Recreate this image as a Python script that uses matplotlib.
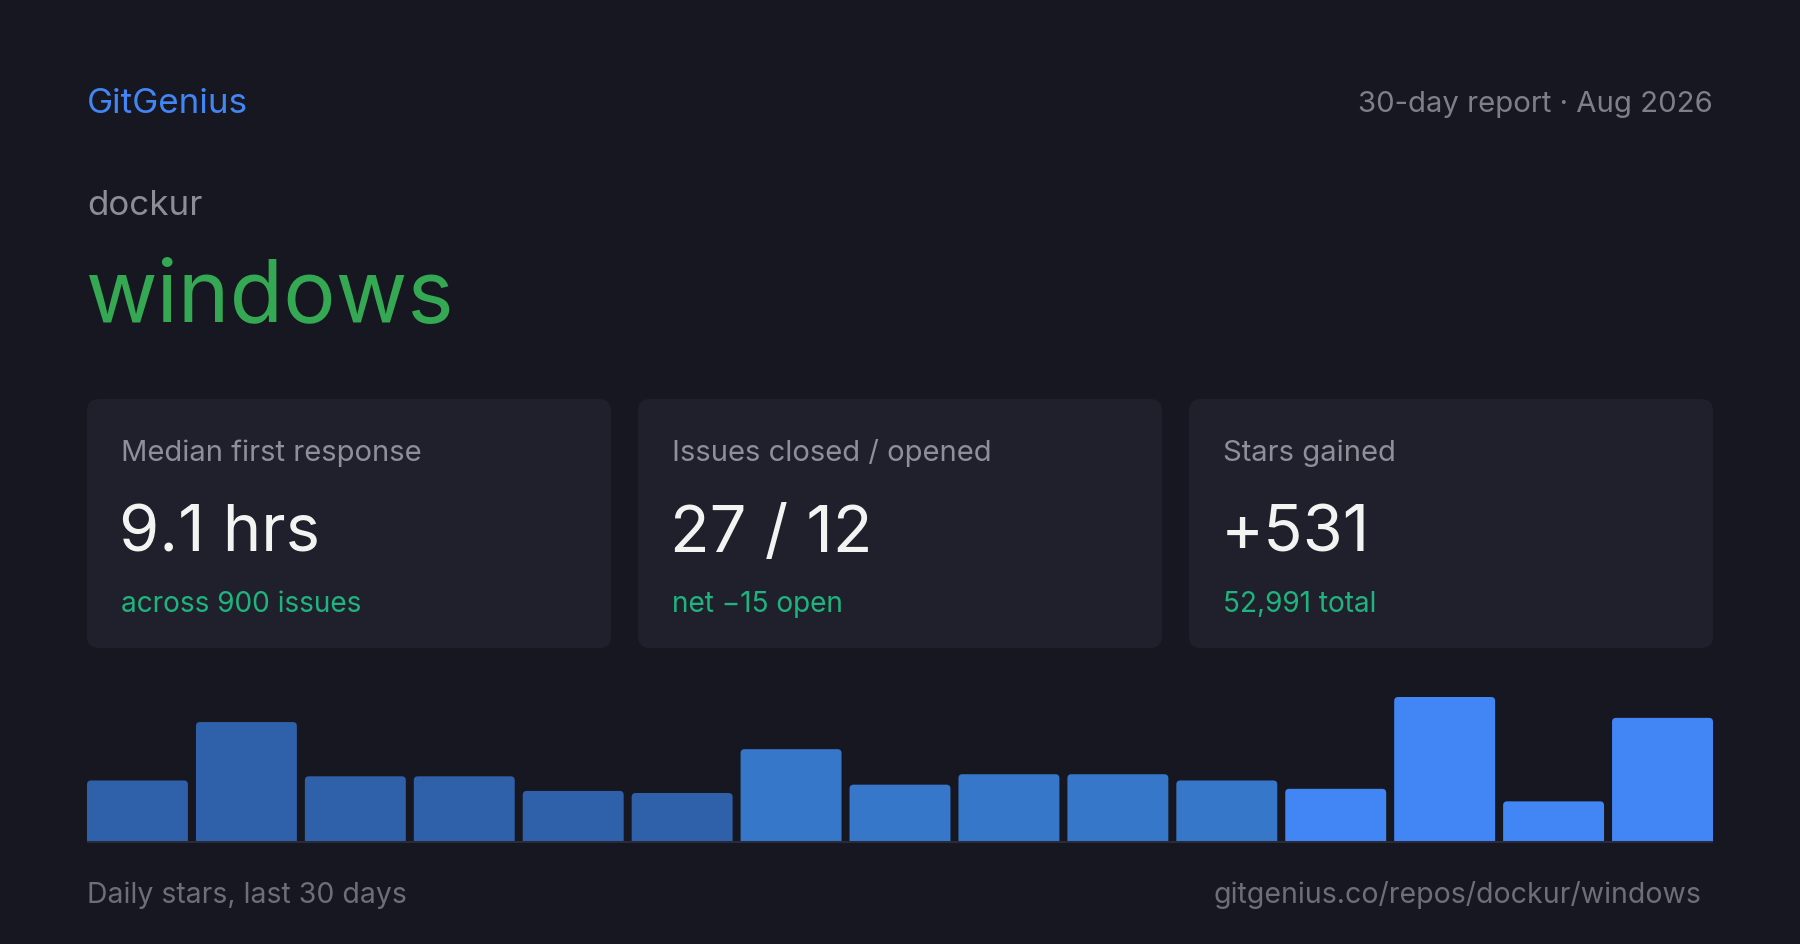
import matplotlib
matplotlib.use("Agg")
import matplotlib.pyplot as plt
from matplotlib.patches import FancyBboxPatch

# data
brand = "GitGenius"
report = "30-day report \u00b7 Aug 2026"
owner = "dockur"
repo = "windows"
card_labels = ["Median first response", "Issues closed / opened", "Stars gained"]
card_values = ["9.1 hrs", "27 / 12", "+531"]
card_subs = ["across 900 issues", "net \u221215 open", "52,991 total"]
daily_stars = [29, 57, 31, 31, 24, 23, 44, 27, 32, 32, 29, 25, 69, 19, 59]
footer_left = "Daily stars, last 30 days"
footer_right = "gitgenius.co/repos/dockur/windows"

# colours
BG = "#161720"
CARD = "#1f202b"
BLUE = "#4285f4"
GREEN = "#34a853"
TEAL = "#1fb47e"
bar_colors = ["#2f60aa"] * 6 + ["#3777c9"] * 5 + ["#4286f5"] * 4

plt.rcParams["font.family"] = ["Inter", "DejaVu Sans"]

W, H = 1800, 945
fig = plt.figure(figsize=(W / 100, H / 100), dpi=100, facecolor=BG)

# layout axes in pixel units, y going down
lay = fig.add_axes([0, 0, 1, 1])
lay.set_xlim(0, W)
lay.set_ylim(H, 0)
lay.axis("off")
lay.set_facecolor(BG)

L, R = 87, 1713
pt = 0.72  # px -> pt at 100 dpi

lay.text(L, 113, brand, color=BLUE, fontsize=35 * pt, va="baseline")
lay.text(R, 112, report, color="#7d7f8b", fontsize=29.3 * pt, va="baseline", ha="right")
lay.text(L, 215, owner, color="#8b8d97", fontsize=35 * pt, va="baseline")
lay.text(L - 2, 322, repo, color=GREEN, fontsize=87.5 * pt, va="baseline")

# stat cards
cw, gap = 524, 27
for i in range(3):
    x0 = L + i * (cw + gap)
    lay.add_patch(FancyBboxPatch((x0, 400), cw, 249,
                                 boxstyle="round,pad=0,rounding_size=12",
                                 fc=CARD, ec="none"))
    lay.text(x0 + 34, 461, card_labels[i], color="#8d8f99", fontsize=29.2 * pt, va="baseline")
    lay.text(x0 + 32, 552, card_values[i], color="#f3f3f1", fontsize=65 * pt, va="baseline")
    lay.text(x0 + 34, 612, card_subs[i], color=TEAL, fontsize=28 * pt, va="baseline")

# daily stars bars
base_y, top_y = 842, 690
ax = fig.add_axes([L / W, (H - base_y) / H, (R - L) / W, (base_y - top_y) / H])
ax.set_facecolor("none")
ax.axis("off")
n = len(daily_stars)
bw = 101 / 109
ymax = max(daily_stars) * (base_y - top_y) / 144
ax.set_xlim(-bw / 2, n - 1 + bw / 2)
ax.set_ylim(0, ymax)

bars = ax.bar(range(n), daily_stars, width=bw, color=bar_colors)
px_x = (n - 1 + bw) / (R - L)
px_y = ymax / (base_y - top_y)
r = 4 * px_x
for b, c in zip(bars, bar_colors):
    x, w, h = b.get_x(), b.get_width(), b.get_height()
    b.set_visible(False)
    ax.add_patch(FancyBboxPatch((x, -5 * px_y), w, h + 5 * px_y,
                                boxstyle=f"round,pad=0,rounding_size={r}",
                                mutation_aspect=px_y / px_x, fc=c, ec="none"))

lay.plot([L, R], [base_y + 1, base_y + 1], color="#2a2b38", lw=2 * pt, solid_capstyle="butt")

lay.text(L, 903, footer_left, color="#6c6e79", fontsize=28.4 * pt, va="baseline")
lay.text(1701, 903, footer_right, color="#6c6e79", fontsize=28.5 * pt, va="baseline", ha="right")

fig.savefig("out.png", dpi=100, facecolor=BG)
